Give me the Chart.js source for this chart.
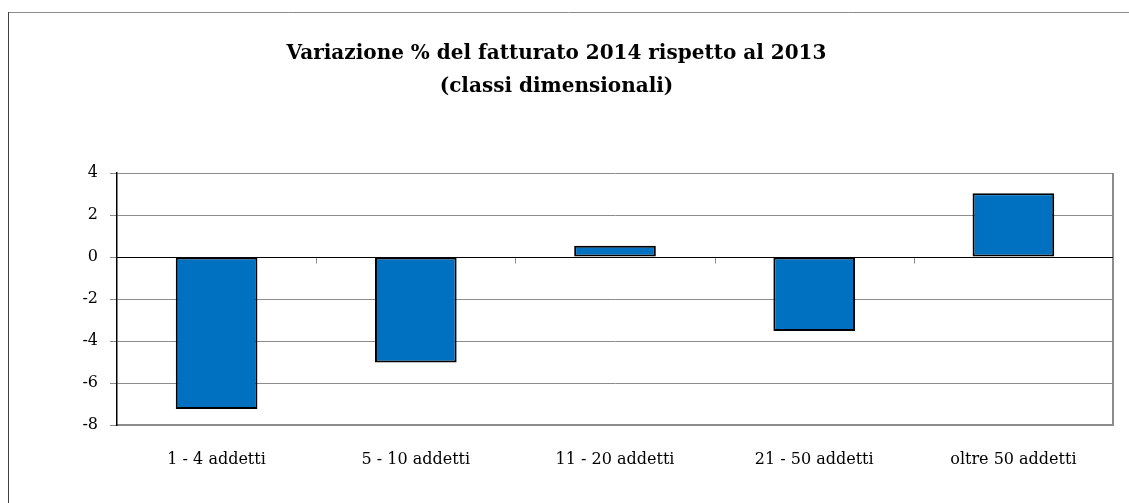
<!DOCTYPE html>
<html>
<head>
<meta charset="utf-8">
<script src="https://cdn.jsdelivr.net/npm/chart.js@4"></script>
<style>
  html, body { margin: 0; padding: 0; background: #fff; overflow: hidden; }
</style>
</head>
<body>
<canvas id="chart" width="1129" height="503"></canvas>
<script>
'use strict';

// data
const categories = ['1 - 4 addetti', '5 - 10 addetti', '11 - 20 addetti', '21 - 50 addetti', 'oltre 50 addetti'];
const variation = [-7.24, -5.02, 0.54, -3.52, 3.04];
const yTicks = [-8, -6, -4, -2, 0, 2, 4];

const serif = "'DejaVu Serif', 'Liberation Serif', serif";

// outer frame, plot frame, zero line and category ticks on the zero line
const framePlugin = {
  id: 'frame',
  beforeDraw(chart) {
    const ctx = chart.ctx;
    ctx.save();
    ctx.strokeStyle = '#8c8c8c';
    ctx.lineWidth = 1;
    ctx.beginPath();
    ctx.moveTo(8, 12.5); ctx.lineTo(chart.width, 12.5);
    ctx.stroke();
    ctx.strokeStyle = '#404040';
    ctx.beginPath();
    ctx.moveTo(8.5, 12); ctx.lineTo(8.5, chart.height);
    ctx.stroke();
    ctx.restore();
  },
  afterDatasetsDraw(chart) {
    const ctx = chart.ctx;
    const a = chart.chartArea;
    const x = chart.scales.x;
    const y = chart.scales.y;
    const y0 = Math.round(y.getPixelForValue(0)) + 0.5;
    const step = x.width / categories.length;
    ctx.save();
    ctx.strokeStyle = '#8c8c8c';
    ctx.lineWidth = 2;
    ctx.beginPath();
    ctx.moveTo(a.right, a.top); ctx.lineTo(a.right, a.bottom + 1);
    ctx.stroke();
    ctx.lineWidth = 1;
    ctx.beginPath();
    for (let i = 1; i < categories.length; i++) {
      const px = Math.round(x.getPixelForTick(i - 1) + step / 2) + 0.5;
      ctx.moveTo(px, y0); ctx.lineTo(px, y0 + 6);
    }
    ctx.stroke();
    ctx.strokeStyle = '#000';
    ctx.beginPath();
    ctx.moveTo(a.left, y0); ctx.lineTo(a.right, y0);
    ctx.stroke();
    ctx.restore();
  }
};

new Chart(document.getElementById('chart').getContext('2d'), {
  type: 'bar',
  data: {
    labels: categories,
    datasets: [{
      data: variation,
      backgroundColor: '#0070C0',
      borderColor: '#000',
      borderWidth: 2,
      borderSkipped: false,
      barPercentage: 0.41,
      categoryPercentage: 1
    }]
  },
  options: {
    responsive: false,
    animation: false,
    layout: { padding: { left: 0, right: 16, top: 0, bottom: 0 } },
    plugins: {
      legend: { display: false },
      tooltip: { enabled: false },
      title: {
        display: true,
        text: ['Variazione % del fatturato 2014 rispetto al 2013', '(classi dimensionali)'],
        color: '#000',
        font: { family: serif, size: 20, weight: 'bold', lineHeight: 1.65 },
        padding: { top: 37, bottom: 70 }
      }
    },
    scales: {
      x: {
        grid: { display: false },
        border: { color: '#8c8c8c', width: 2 },
        ticks: { color: '#000', font: { family: serif, size: 16 }, padding: 17 },
        afterFit(s) { s.height = 78; }
      },
      y: {
        min: -8,
        max: 4,
        afterBuildTicks(s) { s.ticks = yTicks.map(v => ({ value: v })); },
        grid: { color: '#8c8c8c', lineWidth: 1, tickLength: 7 },
        border: { color: '#000', width: 1.5 },
        ticks: { color: '#000', font: { family: serif, size: 16 }, padding: 12 },
        afterFit(s) { s.width = 117; }
      }
    }
  },
  plugins: [framePlugin]
});
</script>
</body>
</html>
